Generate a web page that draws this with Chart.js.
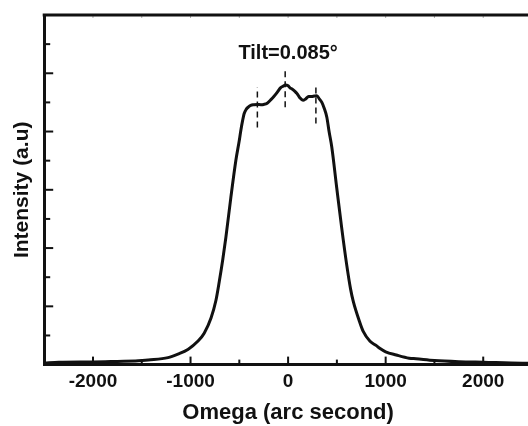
<!DOCTYPE html>
<html>
<head>
<meta charset="utf-8">
<script src="https://cdn.jsdelivr.net/npm/chart.js@4"></script>
<style>
  body { margin: 0; overflow: hidden; background: #fff; }
</style>
</head>
<body>
<canvas id="chart" width="540" height="426"></canvas>
<script>
// Rocking curve
const omega = [-2500, -2350, -2000, -1750, -1536, -1434, -1231, -1129, -1027, -926, -860, -790, -740, -705,
  -670, -638, -587, -536, -500, -485, -465, -451, -430, -400, -383, -350, -315, -280, -250, -214, -180,
  -146, -110, -78, -50, -27, 0, 20, 41, 70, 92, 120, 153, 180, 210, 240, 270, 295, 320, 346, 370, 397,
  420, 448, 498, 549, 600, 640, 668, 732, 770, 840, 905, 939, 1000, 1109, 1241, 1312, 1500, 1750, 2000,
  2400, 2500];
const intensity = [0.05, 0.08, 0.09, 0.11, 0.13, 0.16, 0.24, 0.36, 0.52, 0.8, 1.08, 1.6, 2.2, 2.86,
  3.6, 4.36, 5.73, 7.0, 7.7, 8.03, 8.4, 8.61, 8.76, 8.86, 8.9, 8.92, 8.93, 8.92, 8.93, 8.97, 9.08,
  9.2, 9.35, 9.5, 9.56, 9.6, 9.57, 9.5, 9.46, 9.38, 9.3, 9.16, 9.07, 9.12, 9.2, 9.2, 9.22, 9.23, 9.12,
  9.0, 8.8, 8.49, 8.0, 7.46, 6.08, 4.7, 3.44, 2.6, 2.17, 1.48, 1.14, 0.8, 0.65, 0.56, 0.44, 0.33, 0.22,
  0.2, 0.14, 0.1, 0.08, 0.05, 0.05];

// dashed peak markers: x position, y from / to
const markerX = [-315, -30, 285];
const markerLow = [8.14, 8.83, 8.28];
const markerHigh = [9.52, 10.17, 9.62];

const xTickLabels = [-2000, -1000, 0, 1000, 2000];
const tiltText = 'Tilt=0.085°';

const FONT = '"Liberation Sans", Arial, Helvetica, sans-serif';
const INK = '#111';

const curve = omega.map((v, i) => ({ x: v, y: intensity[i] }));
const markerSets = markerX.map((mx, i) => ({
  data: [{ x: mx, y: markerLow[i] }, { x: mx, y: markerHigh[i] }],
  borderColor: INK,
  borderWidth: 1.5,
  borderDash: [6, 4],
  pointRadius: 0
}));

// ticks pointing inwards, top frame line and the tilt label
const frame = {
  id: 'frame',
  afterDatasetsDraw(chart) {
    const { ctx, chartArea, scales: { x, y } } = chart;
    ctx.save();
    ctx.strokeStyle = INK;
    ctx.lineWidth = 2;
    x.ticks.forEach(t => {
      const px = x.getPixelForValue(t.value);
      if (px <= chartArea.left + 2 || px >= chartArea.right - 1) return;
      const len = t.value % 1000 === 0 ? 8 : 5;
      ctx.beginPath();
      ctx.moveTo(px, chartArea.bottom);
      ctx.lineTo(px, chartArea.bottom - len);
      ctx.stroke();
    });
    y.ticks.forEach(t => {
      if (t.value <= 0 || t.value >= 12) return;
      const py = y.getPixelForValue(t.value);
      const len = t.value % 2 === 0 ? 9 : 6;
      ctx.beginPath();
      ctx.moveTo(chartArea.left, py);
      ctx.lineTo(chartArea.left + len, py);
      ctx.stroke();
    });
    // faint ticks under the top frame
    ctx.strokeStyle = '#aaa';
    ctx.lineWidth = 1;
    x.ticks.forEach(t => {
      const px = x.getPixelForValue(t.value);
      if (px <= chartArea.left + 2 || px >= chartArea.right - 1) return;
      ctx.beginPath();
      ctx.moveTo(px, chartArea.top);
      ctx.lineTo(px, chartArea.top + 3);
      ctx.stroke();
    });
    ctx.strokeStyle = INK;
    ctx.lineWidth = 3;
    ctx.beginPath();
    ctx.moveTo(chartArea.left - 1.5, chartArea.top);
    ctx.lineTo(chart.width, chartArea.top);
    ctx.stroke();

    ctx.fillStyle = INK;
    ctx.font = 'bold 20px ' + FONT;
    ctx.textAlign = 'center';
    ctx.textBaseline = 'middle';
    ctx.fillText(tiltText, x.getPixelForValue(0), y.getPixelForValue(10.69));
    ctx.restore();
  }
};

new Chart(document.getElementById('chart'), {
  type: 'line',
  data: {
    datasets: [{
      data: curve,
      borderColor: INK,
      borderWidth: 3,
      pointRadius: 0,
      cubicInterpolationMode: 'monotone'
    }, ...markerSets]
  },
  options: {
    responsive: false,
    animation: false,
    layout: { padding: { top: 15, right: 3, left: 0, bottom: 0 } },
    plugins: { legend: { display: false }, tooltip: { enabled: false } },
    scales: {
      x: {
        type: 'linear',
        min: -2500,
        max: 2500,
        grid: { display: false, drawTicks: false },
        border: { display: true, color: INK, width: 3 },
        ticks: {
          stepSize: 500,
          autoSkip: false,
          maxRotation: 0,
          padding: 8,
          color: INK,
          font: { family: FONT, size: 19, weight: 'bold', lineHeight: 1.0 },
          callback: v => xTickLabels.includes(v) ? String(v) : ''
        },
        title: {
          display: true,
          text: 'Omega (arc second)',
          color: INK,
          font: { family: FONT, size: 22, weight: 'bold' },
          padding: { top: 0, bottom: 0 }
        }
      },
      y: {
        min: 0,
        max: 12,
        grid: { display: false, drawTicks: false },
        border: { display: true, color: INK, width: 3 },
        ticks: { display: false, stepSize: 1 },
        title: {
          display: true,
          text: 'Intensity (a.u)',
          color: INK,
          font: { family: FONT, size: 21, weight: 'bold' },
          padding: { top: 10, bottom: 9 }
        }
      }
    }
  },
  plugins: [frame]
});
</script>
</body>
</html>
